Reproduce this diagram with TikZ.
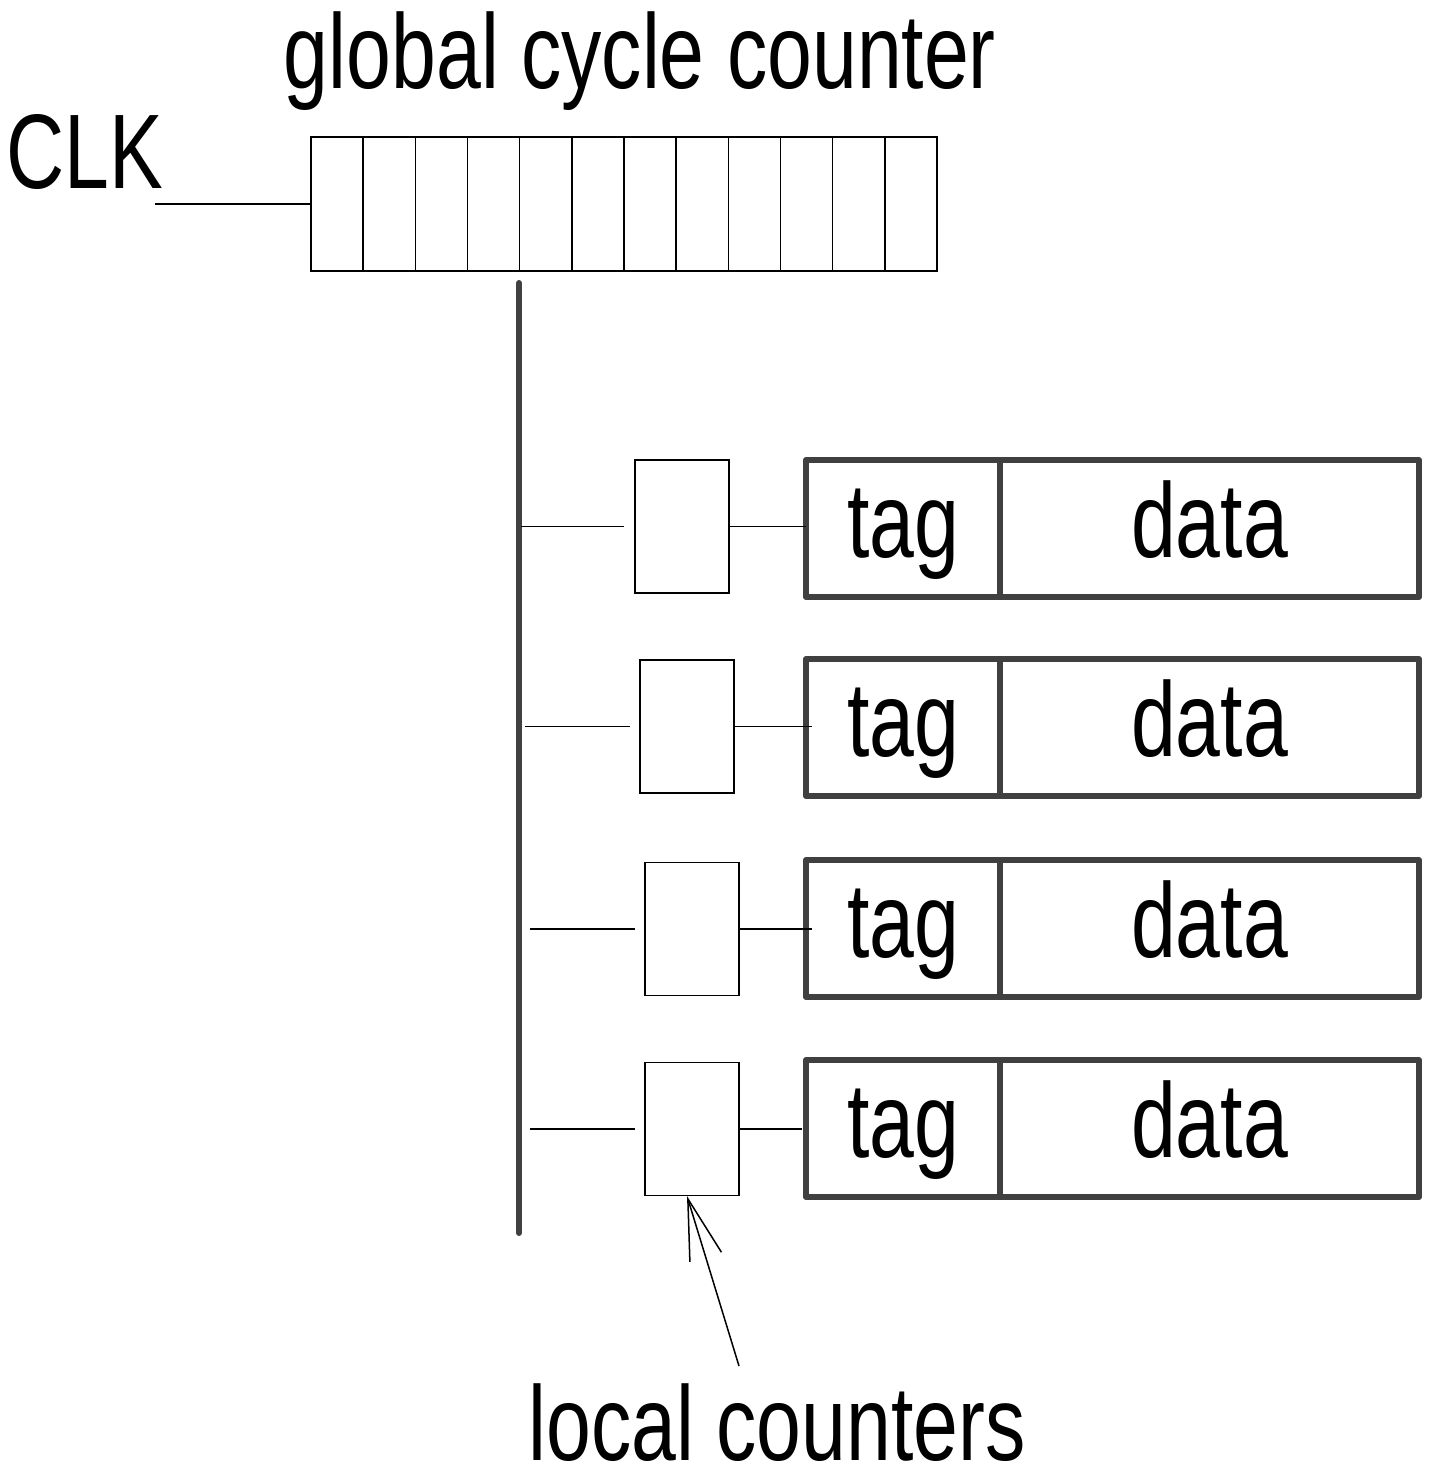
\documentclass[tikz,border=0pt]{standalone}
\usepackage{fontspec}
\setmainfont{Liberation Sans}[FakeStretch=0.76]
\usetikzlibrary{arrows.meta}
\definecolor{darkline}{HTML}{404040}
\begin{document}
\begin{tikzpicture}[x=1pt,y=-1pt,
  hair/.style={line width=1.5pt,black},
  big/.style={font=\fontsize{106}{120}\selectfont},
  lbl/.style={big,inner sep=0pt,anchor=base},
  cell/.style={draw,hair,minimum width=52.17pt,minimum height=134pt,inner sep=0pt,outer sep=0pt},
  lbox/.style={draw,hair,minimum width=94pt,minimum height=133pt,inner sep=0pt,outer sep=0pt},
  field/.style={draw=darkline,line width=6pt,line join=round,big,inner sep=0pt,outer sep=0pt,
                text height=80pt,text depth=22pt,minimum height=137pt},
  bus/.style={draw=darkline,line width=6pt,line cap=round}
]
\useasboundingbox (0,0) rectangle (1428,1470);

% titles
\node[lbl] (title) at (640,88) {global cycle counter};
\node[lbl,anchor=base west] (clk) at (6,188) {CLK};
\node[lbl] (local) at (777,1460) {local counters};

% global counter
\foreach \i in {1,...,12}
  \node[cell] (g\i) at ({311+52.1667*(\i-0.5)},204) {};
\coordinate (clkin) at (155,204);
\draw[hair] (clkin) -- (g1.west);

% bus
\coordinate (bustop) at (519,283);
\coordinate (busbot) at (519,1233);
\draw[bus] (bustop) -- (busbot);

% rows: index / box centre y / local box y / local box x / stub start / stub end / link end
\foreach \r/\yc/\ly/\lx/\sa/\sb/\le in {1/528.5/526.5/682/521/624/806,
                                      2/727.5/726.5/687/525/630/812,
                                      3/928.5/929/692/530/635/812,
                                      4/1128.5/1129/692/530/635/802}{
  \node[lbox] (L\r) at (\lx,\ly) {};
  \node[field,minimum width=194pt] (T\r) at (903,\yc) {tag};
  \node[field,minimum width=419pt] (D\r) at (1209.5,\yc) {data};
  \coordinate (s\r a) at (\sa,\ly);
  \coordinate (s\r b) at (\sb,\ly);
  \coordinate (k\r) at (\le,\ly);
  \draw[hair] (s\r a) -- (s\r b);
  \draw[hair] (L\r.east) -- (k\r);
}

% arrow to local counters
\coordinate (arrtail) at (739,1366);
\coordinate (arrtip) at (687,1196);
\draw[hair,-{Straight Barb[length=61pt,width=33pt,line width=1.5pt]}] (arrtail) -- (arrtip);
\end{tikzpicture}
\end{document}
